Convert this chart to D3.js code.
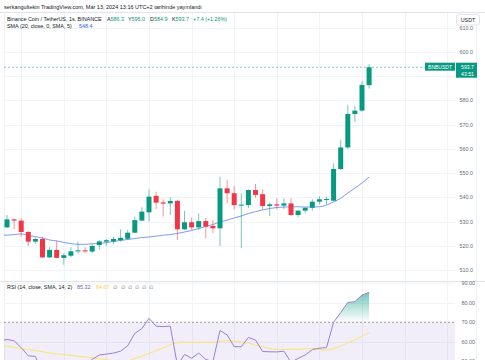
<!DOCTYPE html>
<html><head><meta charset="utf-8">
<script src="https://cdn.jsdelivr.net/npm/d3@7"></script>
<style>body{margin:0;background:#fff}svg{display:block;font-family:"Liberation Sans",Arial,sans-serif}</style>
</head><body><svg id="c" width="485" height="360"></svg>
<script>
// ---- data ----
const open  = [527.6,530.9,530.4,525.7,521.7,522.8,515.2,518.3,515.0,515.9,517.8,518.1,517.6,520.3,521.7,521.8,522.3,522.9,525.4,530.4,533.8,540.6,537.9,537.5,538.5,526.8,529.7,527.6,530.2,528.2,527.2,543.7,541.7,536.7,536.8,543.0,541.3,536.4,537.1,536.6,537.5,532.7,534.5,535.7,538.2,539.2,538.6,551.7,560.6,574.4,575.8,586.3];
const high  = [532.7,531.2,531.3,526.1,523.5,523.7,519.4,522.1,516.9,519.4,521.7,519.4,520.7,522.4,522.8,523.7,526.8,526.5,532.0,535.9,543.3,542.3,539.2,540.0,538.9,534.4,531.6,533.4,531.6,530.6,548.5,547.2,544.7,541.7,543.3,545.5,543.3,537.9,539.6,539.6,539.6,534.7,535.8,539.2,540.3,540.3,554.0,563.7,578.1,577.8,588.0,595.0];
const low   = [527.3,526.8,523.7,519.9,520.7,515.0,515.0,514.8,512.1,515.2,516.9,516.9,516.9,518.5,520.0,520.7,521.7,522.4,525.2,530.0,530.0,535.1,532.0,532.7,522.4,526.5,526.5,526.5,523.1,525.2,519.9,537.5,535.1,519.0,535.5,539.8,534.8,532.3,535.1,535.1,532.3,531.8,533.4,534.5,537.1,537.1,538.4,551.3,560.0,571.2,575.4,584.9];
const close = [530.9,530.4,525.7,521.7,522.8,515.2,518.3,515.0,516.1,517.7,518.1,517.8,519.9,521.8,522.3,522.8,523.3,525.4,530.6,534.1,540.3,537.8,537.4,538.5,526.8,529.7,527.6,530.2,527.9,527.2,543.7,541.7,536.8,537.0,543.0,541.0,536.4,537.1,536.6,537.5,532.7,534.5,535.7,538.2,539.2,539.3,551.7,560.6,574.4,575.8,586.4,593.7];
const sma   = [524.4,524.6,524.9,524.2,523.8,523.2,522.4,522.0,521.4,520.9,520.6,520.6,520.8,521.0,521.3,521.8,522.2,522.6,523.0,523.4,523.6,524.0,524.4,524.6,525.1,525.7,526.3,527.1,528.0,528.8,529.8,530.6,531.5,532.3,533.3,534.1,534.8,535.4,535.8,536.0,536.1,536.1,536.0,536.0,536.1,536.8,538.1,539.6,541.8,543.8,545.9,548.4];
const rsi   = [61.2,60.5,57.0,52.8,52.5,44.0,47.0,43.0,45.0,47.0,48.0,47.5,51.0,53.2,53.7,54.2,55.2,58.0,64.3,66.8,72.0,68.0,67.8,68.0,48.0,53.5,51.6,54.2,51.0,49.8,65.8,63.5,57.5,57.5,62.2,60.9,55.0,54.9,54.8,55.2,49.5,51.5,53.2,56.0,56.7,57.0,70.0,75.0,80.2,80.6,84.0,85.32];
const rsiSma= [57.8,57.2,56.6,56.0,55.5,55.0,54.2,53.8,53.5,53.0,52.6,52.3,51.8,51.3,50.8,50.2,49.8,50.1,51.5,52.6,54.0,55.5,56.9,58.4,59.5,59.8,59.8,59.8,59.8,59.8,60.3,60.6,60.3,59.8,59.3,58.2,57.5,56.5,56.1,56.1,56.2,56.1,56.4,56.6,56.0,55.7,56.5,57.8,59.5,61.0,62.9,64.67];
const priceTicks = [510,520,530,540,550,560,570,580,590,600,610];
const rsiTicks = [50,60,70,80,90];
const gridSlots = [2,8,14,20,26,32,38,44,50,56,62];

// ---- layout ----
const svg = d3.select("#c");
const L = 4, R = 455, mainTop = 13, mainBot = 281, rsiTop = 281, rsiBot = 360;
const GREEN = "#089981", RED = "#f23645";
const FS = 5.4;
const idx = d3.range(close.length);
const x = d3.scaleLinear().domain([0, 51]).range([7, 369.1]);
const y = d3.scaleLinear().domain([510, 600]).range([270, 52]);
const yr = d3.scaleLinear().domain([70, 90]).range([322.3, 283.3]);

const defs = svg.append("defs");
defs.append("clipPath").attr("id","cm").append("rect").attr("x",L).attr("y",mainTop).attr("width",R-L).attr("height",mainBot-mainTop);
defs.append("clipPath").attr("id","cr").append("rect").attr("x",L).attr("y",rsiTop).attr("width",R-L).attr("height",rsiBot-rsiTop);
const grad = defs.append("linearGradient").attr("id","gg").attr("x1",0).attr("x2",0).attr("y1",0).attr("y2",1);
grad.append("stop").attr("offset","0%").attr("stop-color",GREEN).attr("stop-opacity",0.55);
grad.append("stop").attr("offset","100%").attr("stop-color",GREEN).attr("stop-opacity",0.0);

// header
svg.append("text").attr("x",4).attr("y",9).attr("font-size",5.5).attr("fill","#131722")
  .text("serkangultekin TradingView.com, Mar 13, 2024 13:16 UTC+2 tarihinde yayınlandı");
svg.append("line").attr("x1",0).attr("x2",485).attr("y1",12.5).attr("y2",12.5).attr("stroke","#e0e3eb").attr("stroke-width",1);
svg.append("line").attr("x1",L+0.5).attr("x2",L+0.5).attr("y1",12.5).attr("y2",360).attr("stroke","#eef0f4");
svg.append("line").attr("x1",476.5).attr("x2",476.5).attr("y1",12.5).attr("y2",360).attr("stroke","#eef0f4");

// grids main
const gm = svg.append("g").attr("clip-path","url(#cm)");
gm.selectAll(".hg").data(priceTicks).join("line")
  .attr("x1",L).attr("x2",R).attr("y1",d=>Math.round(y(d))+0.5).attr("y2",d=>Math.round(y(d))+0.5)
  .attr("stroke","#f0f3fa");
gm.selectAll(".vg").data(gridSlots).join("line")
  .attr("x1",d=>Math.round(x(d))+0.5).attr("x2",d=>Math.round(x(d))+0.5).attr("y1",mainTop).attr("y2",mainBot)
  .attr("stroke","#f0f3fa");
const gr = svg.append("g").attr("clip-path","url(#cr)");
gr.selectAll(".vg").data(gridSlots).join("line")
  .attr("x1",d=>Math.round(x(d))+0.5).attr("x2",d=>Math.round(x(d))+0.5).attr("y1",rsiTop).attr("y2",rsiBot)
  .attr("stroke","#f0f3fa");
gr.selectAll(".hg").data([80,60,90]).join("line")
  .attr("x1",L).attr("x2",R).attr("y1",d=>Math.round(yr(d))+0.5).attr("y2",d=>Math.round(yr(d))+0.5)
  .attr("stroke","#f0f3fa");

svg.append("line").attr("x1",0).attr("x2",485).attr("y1",rsiTop+0.5).attr("y2",rsiTop+0.5).attr("stroke","#e0e3eb");

// price line dashed
gm.append("line").attr("x1",L).attr("x2",R).attr("y1",y(close[51])).attr("y2",y(close[51]))
  .attr("stroke",GREEN).attr("stroke-opacity",0.5).attr("stroke-dasharray","2,2");

// SMA line
gm.append("path").datum(idx).attr("fill","none").attr("stroke","#7d9cf6").attr("stroke-width",1)
  .attr("d", d3.line().x(i=>x(i)).y(i=>y(sma[i])).curve(d3.curveMonotoneX));
gm.append("line").attr("x1",L).attr("x2",x(0)).attr("y1",y(sma[0])).attr("y2",y(sma[0])).attr("stroke","#7d9cf6");

// candles
const cg = gm.selectAll(".c").data(idx).join("g");
cg.append("line").attr("x1",i=>x(i)).attr("x2",i=>x(i)).attr("y1",i=>y(high[i])).attr("y2",i=>y(low[i]))
  .attr("stroke",i=>close[i]>=open[i]?GREEN:RED).attr("stroke-opacity",0.55).attr("stroke-width",1);
cg.append("rect").attr("x",i=>x(i)-2.5).attr("width",5)
  .attr("y",i=>y(Math.max(open[i],close[i])))
  .attr("height",i=>Math.max(1,Math.abs(y(open[i])-y(close[i]))))
  .attr("fill",i=>close[i]>=open[i]?GREEN:RED);

// price-tag region (hides axis labels underneath, as in the reference)
const tagTop = 62.7, tagBot = 77.7;
svg.selectAll(".pl").data(priceTicks.filter(d => y(d) + 2 < tagTop || y(d) - 3 > tagBot)).join("text")
  .attr("x",473).attr("y",d=>y(d)+2).attr("text-anchor","end").attr("font-size",FS).attr("fill","#6a6d78")
  .text(d=>d.toFixed(1));

// USDT box
svg.append("rect").attr("x",456.5).attr("y",14.5).attr("width",23).attr("height",10.5).attr("rx",2)
  .attr("fill","#fff").attr("stroke","#e0e3eb");
svg.append("text").attr("x",468).attr("y",21.8).attr("text-anchor","middle").attr("font-size",FS).attr("fill","#131722").text("USDT");

// last price labels
svg.append("rect").attr("x",425).attr("y",tagTop).attr("width",30).attr("height",8).attr("fill",GREEN);
svg.append("text").attr("x",440).attr("y",68.7).attr("text-anchor","middle").attr("font-size",5).attr("fill","#fff").text("BNBUSDT");
svg.append("rect").attr("x",456).attr("y",tagTop).attr("width",21).attr("height",tagBot-tagTop).attr("fill",GREEN);
svg.append("text").attr("x",474).attr("y",68.5).attr("text-anchor","end").attr("font-size",5.2).attr("fill","#fff").text(close[51].toFixed(1));
svg.append("text").attr("x",474).attr("y",75.8).attr("text-anchor","end").attr("font-size",5.2).attr("fill","#fff").text("43:51");

// legend
const lg = svg.append("text").attr("x",7).attr("y",20.5).attr("font-size",FS).attr("fill","#131722");
lg.append("tspan").text("Binance Coin / TetherUS, 1s, BINANCE");
const ohlc = [["A",open[51].toFixed(1)],["Y",high[51].toFixed(1)],["D",low[51].toFixed(1)],["K",close[51].toFixed(1)]];
const ox = [107,128,150,172];
ohlc.forEach((p,k)=>{
  lg.append("tspan").attr("x",ox[k]).text(p[0]);
  lg.append("tspan").attr("fill",GREEN).text(p[1]);
});
lg.append("tspan").attr("x",193).attr("fill",GREEN).text("+7.4 (+1.26%)");
const lg2 = svg.append("text").attr("x",7).attr("y",28).attr("font-size",FS).attr("fill","#131722");
lg2.append("tspan").text("SMA (20, close, 0, SMA, 5)");
lg2.append("tspan").attr("x",79).attr("fill","#2962ff").text(sma[51].toFixed(1));

// ---- RSI pane ----
gr.append("rect").attr("x",L).attr("width",R-L).attr("y",yr(70)).attr("height",yr(30)-yr(70))
  .attr("fill","#7e57c2").attr("fill-opacity",0.1);
gr.append("line").attr("x1",L).attr("x2",R).attr("y1",yr(70)).attr("y2",yr(70))
  .attr("stroke","#9598a1").attr("stroke-dasharray","2,2");
gr.append("path").datum(idx).attr("fill","url(#gg)")
  .attr("d", d3.area().x(i=>x(i)).y0(yr(70)).y1(i=>yr(Math.max(70,rsi[i]))));
gr.append("path").datum(idx).attr("fill","none").attr("stroke","#fbe56a").attr("stroke-width",1)
  .attr("d", d3.line().x(i=>x(i)).y(i=>yr(rsiSma[i])).curve(d3.curveMonotoneX));
gr.append("line").attr("x1",L).attr("x2",x(0)).attr("y1",yr(rsiSma[0])).attr("y2",yr(rsiSma[0])).attr("stroke","#fbe56a");
gr.append("path").datum(idx).attr("fill","none").attr("stroke","#9a7fd6").attr("stroke-width",1)
  .attr("d", d3.line().x(i=>x(i)).y(i=>yr(rsi[i])));
gr.append("line").attr("x1",L).attr("x2",x(0)).attr("y1",yr(60.9)).attr("y2",yr(rsi[0])).attr("stroke","#9a7fd6");

svg.selectAll(".rl").data(rsiTicks).join("text")
  .attr("x",475).attr("y",d=>yr(d)+2).attr("text-anchor","end").attr("font-size",FS).attr("fill","#6a6d78")
  .text(d=>d.toFixed(2));

const rl = svg.append("text").attr("x",7).attr("y",289).attr("font-size",FS).attr("fill","#131722");
rl.append("tspan").text("RSI (14, close, SMA, 14, 2)");
rl.append("tspan").attr("x",77).attr("fill","#7e57c2").text(rsi[51].toFixed(2));
rl.append("tspan").attr("x",96).attr("fill","#f5d142").text(rsiSma[51].toFixed(2));
[113,120.5,128,135,142,149].forEach(px=>{
  rl.append("tspan").attr("x",px).attr("fill","#787b86").text("∅");
});
</script></body></html>
